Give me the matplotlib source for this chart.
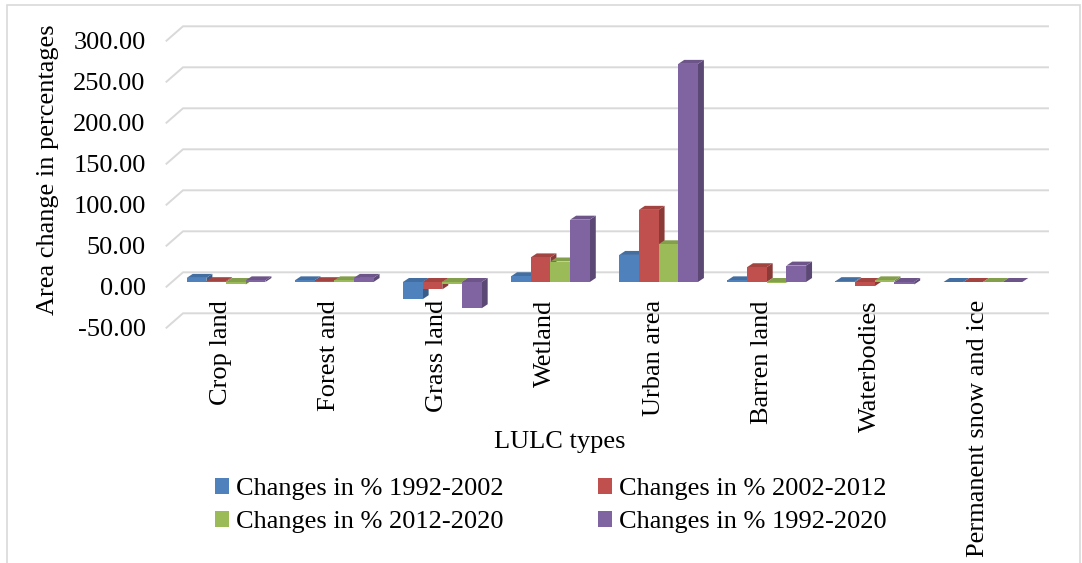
import matplotlib.pyplot as plt
from matplotlib.patches import Patch, Polygon, Rectangle
from matplotlib.transforms import ScaledTranslation

categories = ['Crop land', 'Forest and', 'Grass land', 'Wetland', 'Urban area',
              'Barren land', 'Waterbodies', 'Permanent snow and ice']
series_names = ['Changes in % 1992-2002', 'Changes in % 2002-2012',
                'Changes in % 2012-2020', 'Changes in % 1992-2020']
chg_1992_2002 = [5, 2, -21, 7, 33, 2, 1, 0]
chg_2002_2012 = [1, 1, -9, 30, 88, 18, -5, 0]
chg_2012_2020 = [-3, 2, -3, 25, 46, -1, 2, 0]
chg_1992_2020 = [2, 5, -32, 76, 266, 20, -3, 0]
y_ticks = [-50, 0, 50, 100, 150, 200, 250, 300]

series = [chg_1992_2002, chg_2002_2012, chg_2012_2020, chg_1992_2020]
colors = ['#4F81BD', '#C0504D', '#9BBB59', '#8064A2']

plt.rcParams['font.family'] = ['Liberation Serif', 'DejaVu Serif']
FS = 19

W, H = 1082, 563
fig = plt.figure(figsize=(W / 100, H / 100), dpi=100)

# plot plane of the bar fronts, in pixels
left, right, top, bottom = 172, 1037, 36, 323
ax = fig.add_axes([left / W, 1 - bottom / H, (right - left) / W, (bottom - top) / H])
ax.set_xlim(-0.5, len(categories) - 0.5)
ax.set_ylim(-50, 300)
for s in ax.spines.values():
    s.set_visible(False)

px_x = (right - left) / len(categories)
px_y = (bottom - top) / 350


def shade(c, f):
    r, g, b = [int(c[i:i + 2], 16) / 255 for i in (1, 3, 5)]
    return (r * f, g * f, b * f)


# back wall gridlines and left wall diagonals
grid_c = '#d9d9d9'
bx, by = 11 / px_x, 9.7 / px_y
fx, fy = -5.5 / px_x, -4.7 / px_y
x0, x1 = -0.5, len(categories) - 0.5
for t in y_ticks:
    ax.plot([x0 + fx, x0 + bx, x1 + bx], [t + fy, t + by, t + by],
            color=grid_c, lw=1.4, clip_on=False, zorder=1)

# 3d columns
w = 0.182
ddx, ddy = 6 / px_x, 4 / px_y
for i in range(len(categories)):
    for j, vals in enumerate(series):
        h = vals[i]
        xl = i + (j - 1.5) * w - w / 2
        xr = xl + w
        ytop, ybot = max(h, 0), min(h, 0)
        z = 3 + j * 0.1
        ax.add_patch(Polygon([(xr, ybot), (xr, ytop), (xr + ddx, ytop + ddy), (xr + ddx, ybot + ddy)],
                             closed=True, fc=shade(colors[j], 0.72), ec='none', zorder=z, clip_on=False))
        ax.add_patch(Polygon([(xl, ytop), (xr, ytop), (xr + ddx, ytop + ddy), (xl + ddx, ytop + ddy)],
                             closed=True, fc=shade(colors[j], 0.85), ec='none', zorder=z, clip_on=False))
        ax.bar(xl, h, width=w, align='edge', color=colors[j], zorder=z + 0.05, clip_on=False)

ax.set_yticks(y_ticks)
ax.set_yticklabels([f'{t:.2f}' for t in y_ticks], fontsize=FS)
ax.tick_params(axis='y', length=0, pad=19)
off = ScaledTranslation(0, -4.7 / 100, fig.dpi_scale_trans)
for lab in ax.get_yticklabels():
    lab.set_transform(lab.get_transform() + off)

ax.set_xticks(range(len(categories)))
ax.set_xticklabels(categories, rotation=90, fontsize=FS)
ax.tick_params(axis='x', length=0, pad=-16.5)
off_x = ScaledTranslation(-5 / 100, 0, fig.dpi_scale_trans)
for lab in ax.get_xticklabels():
    lab.set_transform(lab.get_transform() + off_x)

fig.text(48 / W, 1 - 170 / H, 'Area change in percentages', rotation=90,
         ha='center', va='center', fontsize=FS)
fig.text(560 / W, 1 - 442 / H, 'LULC types', ha='center', va='center', fontsize=FS)

handles = [Patch(facecolor=c, edgecolor='none') for c in colors]
order = [0, 2, 1, 3]
fig.legend([handles[k] for k in order], [series_names[k] for k in order],
           ncol=2, loc='upper left', frameon=False,
           bbox_to_anchor=(215 / W, 1 - 478 / H), fontsize=FS,
           handlelength=0.53, handleheight=0.53, handletextpad=0.25,
           columnspacing=3.6, labelspacing=0.42, borderaxespad=0, borderpad=0)

fig.patches.append(Rectangle((7 / W, -0.1), 1073 / W, 1.1 - 5 / H, transform=fig.transFigure,
                             fill=False, ec='#d9d9d9', lw=1.2))

fig.savefig('out.png', dpi=100)
